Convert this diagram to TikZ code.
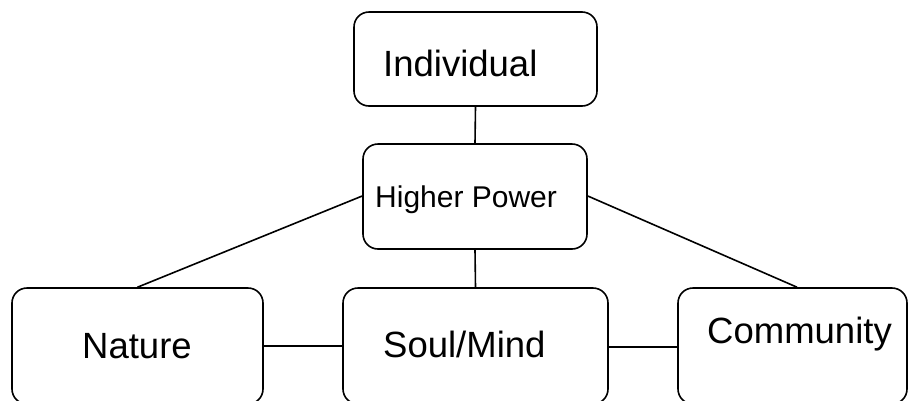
\documentclass[tikz,border=0pt]{standalone}
\usepackage{fontspec}
\setmainfont{Liberation Sans}
\begin{document}
\begin{tikzpicture}[x=1pt,y=-1pt,
  box/.style={draw=black,line width=1.6pt,rounded corners=15pt,inner sep=0pt},
  lbl/.style={inner sep=0pt,anchor=base west,font=\fontsize{36.5}{40}\selectfont},
  lblsmall/.style={inner sep=0pt,anchor=base west,font=\fontsize{30}{34}\selectfont},
  conn/.style={draw=black,line width=1.6pt}]
\useasboundingbox (0,0) rectangle (908,400);
\clip (0,0) rectangle (908,400);
\node[box,minimum width=243pt,minimum height=94pt] (ind) at (475.5,59) {};
\node[box,minimum width=224pt,minimum height=105pt] (hp) at (475,196.5) {};
\node[box,minimum width=251pt,minimum height=116pt] (nat) at (137.5,346) {};
\node[box,minimum width=265pt,minimum height=116pt] (soul) at (475.5,346) {};
\node[box,minimum width=229pt,minimum height=116pt] (com) at (792.5,346) {};
\node[lbl] (tind) at (383,76) {Individual};
\node[lblsmall] (thp) at (375,207) {Higher Power};
\node[lbl] (tnat) at (82,358) {Nature};
\node[lbl] (tsoul) at (383,357) {Soul/Mind};
\node[lbl] (tcom) at (707,343) {Community};
\draw[conn] (ind.south) -- (hp.north);
\draw[conn] (hp.south) -- (soul.north);
\draw[conn] ([yshift=0.5pt]hp.west) -- (nat.north);
\draw[conn] ([yshift=0.5pt]hp.east) -- ([xshift=4.5pt]com.north);
\draw[conn] (nat.east) -- (soul.west);
\draw[conn] ([yshift=-1pt]soul.east) -- ([yshift=-1pt]com.west);
\end{tikzpicture}
\end{document}
